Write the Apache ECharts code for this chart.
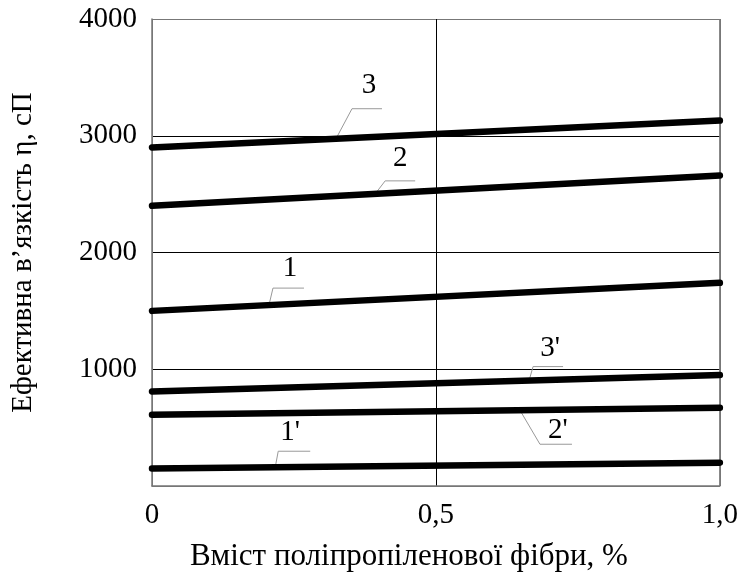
<!DOCTYPE html>
<html>
<head>
<meta charset="utf-8">
<script src="https://cdn.jsdelivr.net/npm/echarts@6/dist/echarts.min.js"></script>
<style>
html,body{margin:0;padding:0;background:#fff;}
#main{width:741px;height:577px;}
</style>
</head>
<body>
<div id="main"></div>
<script>
// ---- data ----
var xValues = [0, 1];
var curve3  = [2900, 3130];
var curve2  = [2400, 2660];
var curve1  = [1500, 1740];
var curve3p = [810, 950];
var curve2p = [610, 670];
var curve1p = [150, 200];
var seriesNames = ['3', '2', '1', "3'", "2'", "1'"];
var xTickLabels = { '0': '0', '0.5': '0,5', '1': '1,0' };
var yTickLabels = { '0': '', '1000': '1000', '2000': '2000', '3000': '3000', '4000': '4000' };
var yTicks = [0, 1000, 2000, 3000, 4000];
var xTitle = 'Вміст поліпропіленової фібри, %';
var yTitle = 'Ефективна в’язкість η, сП';

// ---- label placement (style) ----
var labelAnchors = [0.324, 0.393, 0.206, 0.664, 0.648, 0.217];
var labelOffsets = [
  {knee:[16,-30], end:[46,-30], text:[33,-53]},
  {knee:[10,-13], end:[40,-13], text:[25,-35]},
  {knee:[4,-17],  end:[35,-17], text:[21,-37]},
  {knee:[4,-14],  end:[34,-14], text:[21,-32]},
  {knee:[20,34],  end:[52,34],  text:[38,20]},
  {knee:[3,-16],  end:[35,-16], text:[15,-35]}
];

var allCurves = [curve3, curve2, curve1, curve3p, curve2p, curve1p];
var FONT = 'Liberation Serif';

function pts(vals) { return xValues.map(function (x, i) { return [x, vals[i]]; }); }

var chart = echarts.init(document.getElementById('main'), null, {renderer: 'canvas'});
var series = allCurves.map(function (c, i) {
  return {
    name: seriesNames[i],
    type: 'line',
    data: pts(c),
    showSymbol: false,
    symbol: 'none',
    silent: true,
    z: 3,
    lineStyle: {color: '#000', width: 6.5, cap: 'round'}
  };
});

chart.setOption({
  animation: false,
  backgroundColor: '#fff',
  grid: {left: 152, top: 19, width: 568, height: 472, containLabel: false},
  xAxis: {
    type: 'value', min: 0, max: 1, interval: 0.5,
    name: xTitle, nameLocation: 'middle', nameGap: 55,
    nameTextStyle: {fontFamily: FONT, fontSize: 31, color: '#000', padding: [0, 54, 0, 0]},
    axisLine: {show: true, lineStyle: {color: '#777', width: 1.5}},
    axisTick: {show: false},
    axisLabel: {fontFamily: FONT, fontSize: 29, color: '#000', margin: 15,
      formatter: function (v) { return xTickLabels[String(v)]; }},
    splitLine: {show: true, lineStyle: {color: ['#777', '#000', '#777'], width: 1}}
  },
  yAxis: {
    type: 'value', min: yTicks[0], max: yTicks[yTicks.length - 1], interval: 1000,
    name: yTitle, nameLocation: 'middle', nameGap: 114,
    nameTextStyle: {fontFamily: FONT, fontSize: 29, color: '#000'},
    axisLine: {show: true, lineStyle: {color: '#777', width: 1.5}},
    axisTick: {show: false},
    axisLabel: {fontFamily: FONT, fontSize: 29, color: '#000', margin: 15,
      formatter: function (v) { return yTickLabels[String(v)]; }},
    splitLine: {show: true, lineStyle: {color: ['#777', '#000', '#000', '#000', '#777'], width: 1}}
  },
  series: series
});

// right border
var graphics = [];
var tr = chart.convertToPixel({gridIndex: 0}, [1, 4000]);
var br = chart.convertToPixel({gridIndex: 0}, [1, 0]);
graphics.push({type: 'line', z: 1, shape: {x1: tr[0], y1: tr[1], x2: br[0], y2: br[1]},
  style: {stroke: '#777', lineWidth: 1.5}});

allCurves.forEach(function (c, i) {
  var t = labelAnchors[i];
  var yv = c[0] + (c[1] - c[0]) * (t - xValues[0]) / (xValues[1] - xValues[0]);
  var p = chart.convertToPixel({gridIndex: 0}, [t, yv]);
  var o = labelOffsets[i];
  graphics.push({
    type: 'polyline', z: 1,
    shape: {points: [[p[0], p[1]], [p[0] + o.knee[0], p[1] + o.knee[1]], [p[0] + o.end[0], p[1] + o.end[1]]]},
    style: {stroke: '#999', lineWidth: 1, fill: null}
  });
  graphics.push({
    type: 'text', z: 4,
    x: p[0] + o.text[0], y: p[1] + o.text[1],
    style: {text: seriesNames[i], fontFamily: FONT, fontSize: 29, fill: '#000',
      align: 'center', verticalAlign: 'middle'}
  });
});
chart.setOption({graphic: graphics});
</script>
</body>
</html>
